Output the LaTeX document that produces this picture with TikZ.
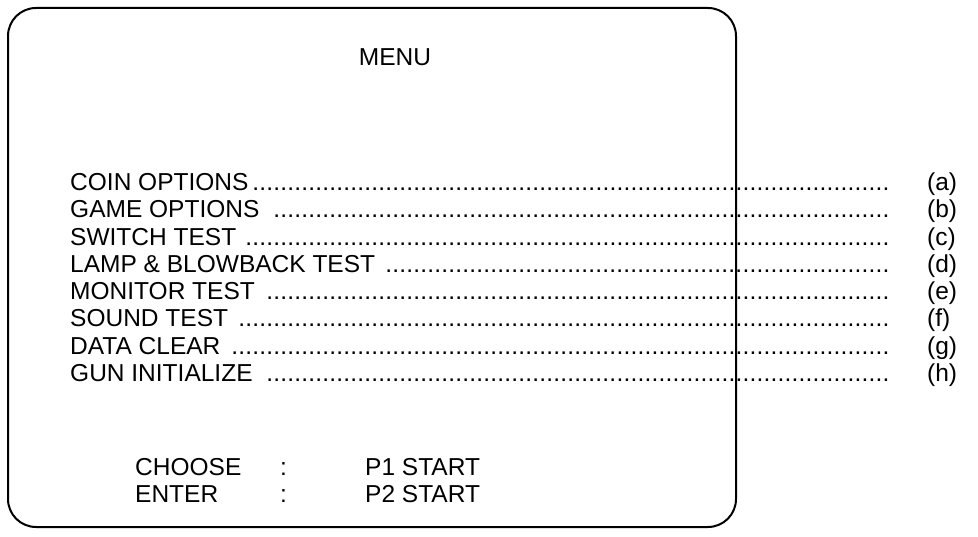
\documentclass[tikz,border=0pt]{standalone}
\usepackage{fontspec}
\setmainfont{Liberation Sans}
\newcommand{\menudots}{\leaders\hbox to 7pt{\hss.\hss}\hskip 0pt plus 1fill}
\newcommand{\menurow}[1]{\hbox to 820pt{#1\menudots}}
\begin{document}
\begin{tikzpicture}[x=1pt,y=-1pt,
  txt/.style={anchor=base west,inner sep=0pt,font=\fontsize{24.5}{29}\selectfont},
  frame/.style={draw=black,line width=2pt,rounded corners=28pt}]
\useasboundingbox (0,0) rectangle (978,537);
\draw[frame] (8,8) rectangle (736,527);
\node[txt,anchor=base] (menu) at (395,65.5) {MENU};
\node[txt] (r1) at (70,190.5) {\menurow{COIN OPTIONS}};
\node[txt] (r2) at (70,217.8) {\menurow{GAME OPTIONS }};
\node[txt] (r3) at (70,245.1) {\menurow{SWITCH TEST }};
\node[txt] (r4) at (70,272.4) {\menurow{LAMP \& BLOWBACK TEST }};
\node[txt] (r5) at (70,299.7) {\menurow{MONITOR TEST }};
\node[txt] (r6) at (70,327.0) {\menurow{SOUND TEST }};
\node[txt] (r7) at (70,354.3) {\menurow{DATA CLEAR }};
\node[txt] (r8) at (70,381.6) {\menurow{GUN INITIALIZE }};
\node[txt] (l1) at (927,190.5) {(a)};
\node[txt] (l2) at (927,217.8) {(b)};
\node[txt] (l3) at (927,245.1) {(c)};
\node[txt] (l4) at (927,272.4) {(d)};
\node[txt] (l5) at (927,299.7) {(e)};
\node[txt] (l6) at (927,327.0) {(f)};
\node[txt] (l7) at (927,354.3) {(g)};
\node[txt] (l8) at (927,381.6) {(h)};
\node[txt] (c1) at (135,475.5) {CHOOSE};
\node[txt] (c2) at (280,475.5) {:};
\node[txt] (c3) at (365,475.5) {P1 START};
\node[txt] (e1) at (135,502.8) {ENTER};
\node[txt] (e2) at (280,502.8) {:};
\node[txt] (e3) at (365,502.8) {P2 START};
\end{tikzpicture}
\end{document}
